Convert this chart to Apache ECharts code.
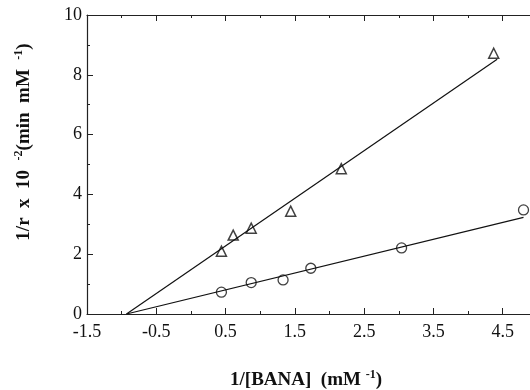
<!DOCTYPE html>
<html>
<head>
<meta charset="utf-8">
<script src="https://cdn.jsdelivr.net/npm/echarts@6/dist/echarts.min.js"></script>
<style>
  html, body { margin: 0; padding: 0; background: #fff; }
  #chart { width: 530px; height: 390px; }
</style>
</head>
<body>
<div id="chart"></div>
<script>
// triangles
const triX = [0.44, 0.61, 0.87, 1.44, 2.17, 4.37];
const triY = [2.1, 2.64, 2.87, 3.44, 4.86, 8.72];
// circles
const cirX = [0.44, 0.87, 1.33, 1.73, 3.04, 4.8];
const cirY = [0.73, 1.05, 1.14, 1.53, 2.21, 3.48];
// fitted lines
const triLineX = [-0.93, 4.42];
const triLineY = [0, 8.52];
const cirLineX = [-0.93, 4.8];
const cirLineY = [0, 3.23];

const pairs = (xs, ys) => xs.map((x, i) => [x, ys[i]]);

const serif = "Liberation Serif";
const chart = echarts.init(document.getElementById("chart"));

const titleRich = {
  a: { fontFamily: serif, fontSize: 19, fontWeight: "bold", fill: "#111", lineHeight: 22 },
  s: { fontFamily: serif, fontSize: 12, fontWeight: "bold", fill: "#111", verticalAlign: "top", lineHeight: 22 },
};

chart.setOption({
  animation: false,
  grid: { left: 87, top: 15, width: 485, height: 299, containLabel: false, outerBoundsMode: "none" },
  xAxis: [
    {
      type: "value",
      min: -1.5,
      max: 5.5,
      interval: 1,
      axisLine: { onZero: false, lineStyle: { color: "#222", width: 1.2 } },
      axisTick: { inside: true, length: 6, lineStyle: { color: "#222" } },
      minorTick: { show: true, splitNumber: 2, length: 3, lineStyle: { color: "#222" } },
      splitLine: { show: false },
      axisLabel: {
        color: "#111",
        fontFamily: serif,
        fontSize: 18,
        margin: 9,
        formatter: (v) => v.toFixed(1),
      },
    },
    {
      type: "value",
      position: "top",
      min: -1.5,
      max: 5.5,
      interval: 1,
      axisLine: { onZero: false, lineStyle: { color: "#222", width: 1.2 } },
      axisTick: { inside: true, length: 6, lineStyle: { color: "#222" } },
      minorTick: { show: true, splitNumber: 2, length: 3, lineStyle: { color: "#222" } },
      splitLine: { show: false },
      axisLabel: { show: false },
    },
  ],
  yAxis: {
    type: "value",
    min: 0,
    max: 10,
    interval: 2,
    axisLine: { onZero: false, lineStyle: { color: "#222", width: 1.2 } },
    axisTick: { inside: true, length: 6, lineStyle: { color: "#222" } },
    minorTick: { show: true, splitNumber: 2, length: 3, lineStyle: { color: "#222" } },
    splitLine: { show: false },
    axisLabel: { color: "#111", fontFamily: serif, fontSize: 18, margin: 5 },
  },
  graphic: [
    {
      type: "text",
      x: 306,
      y: 380,
      style: {
        text: "{a|1/[BANA]  (mM }{s|-1}{a|)}",
        align: "center",
        verticalAlign: "middle",
        rich: titleRich,
      },
    },
    {
      type: "text",
      x: 24,
      y: 142,
      rotation: Math.PI / 2,
      style: {
        text: "{a|1/r  x  10  }{s|-2}{a|(min  mM  }{s|-1}{a|)}",
        align: "center",
        verticalAlign: "middle",
        rich: titleRich,
      },
    },
  ],
  series: [
    {
      type: "line",
      data: pairs(triLineX, triLineY),
      symbol: "none",
      lineStyle: { color: "#111", width: 1.2 },
    },
    {
      type: "line",
      data: pairs(cirLineX, cirLineY),
      symbol: "none",
      lineStyle: { color: "#111", width: 1.2 },
    },
    {
      type: "scatter",
      data: pairs(triX, triY),
      symbol: "triangle",
      symbolSize: 10,
      itemStyle: { color: "#fff", borderColor: "#111", borderWidth: 1.5 },
    },
    {
      type: "scatter",
      data: pairs(cirX, cirY),
      symbol: "circle",
      symbolSize: 10,
      itemStyle: { color: "#fff", borderColor: "#111", borderWidth: 1.3 },
    },
  ],
});
</script>
</body>
</html>
